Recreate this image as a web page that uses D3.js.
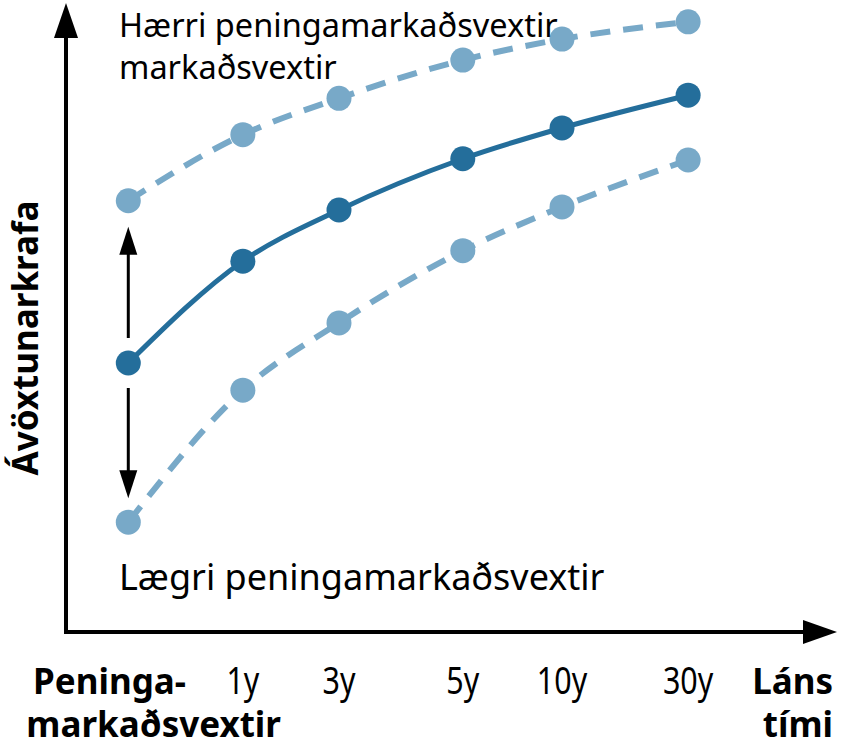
<!DOCTYPE html>
<html>
<head>
<meta charset="utf-8">
<script src="https://cdn.jsdelivr.net/npm/d3@7"></script>
<style>
  html, body { margin: 0; padding: 0; background: #fff; }
  svg { display: block; font-family: "Noto Sans", sans-serif; }
</style>
</head>
<body>
<svg id="chart"></svg>
<script>
const width = 841;
const height = 753;

// maturities along the x axis (position in chart units, 0-100)
const maturities = ["mm", "1y", "3y", "5y", "10y", "30y"];
const maturityPos = [8.1, 23.0, 35.5, 51.6, 64.5, 80.9];

// yields in chart units (0-100)
const baseCurve = [43.6, 60.1, 68.4, 76.7, 81.7, 87.0];
const higherCurve = [69.9, 80.6, 86.5, 92.7, 96.1, 98.9];
const lowerCurve = [17.8, 39.2, 50.1, 61.8, 68.9, 76.5];

const dark = "#246e9b";
const light = "#78a9c8";

const svg = d3.select("#chart")
  .attr("width", width)
  .attr("height", height)
  .attr("viewBox", [0, 0, width, height]);

const x = d3.scaleLinear().domain([0, 100]).range([66, 835]);
const y = d3.scaleLinear().domain([0, 100]).range([632, 15]);

const line = d3.line()
  .x((d, i) => x(maturityPos[i]))
  .y(d => y(d))
  .curve(d3.curveMonotoneX);

// axes with arrow heads
const axes = svg.append("g");
axes.append("line")
  .attr("x1", x(0)).attr("x2", x(0))
  .attr("y1", y(0) + 2).attr("y2", 36)
  .attr("stroke", "#000").attr("stroke-width", 4);
axes.append("path")
  .attr("d", `M${x(0)},3 L${x(0) - 12},38 L${x(0) + 12},38 Z`)
  .attr("fill", "#000");
axes.append("line")
  .attr("x1", x(0) - 2).attr("x2", 805)
  .attr("y1", y(0)).attr("y2", y(0))
  .attr("stroke", "#000").attr("stroke-width", 4);
axes.append("path")
  .attr("d", `M837,${y(0)} L803,${y(0) - 12} L803,${y(0) + 12} Z`)
  .attr("fill", "#000");

// curves
const series = [
  {values: higherCurve, color: light, dash: "20,13", width: 6},
  {values: lowerCurve, color: light, dash: "20,13", width: 6},
  {values: baseCurve, color: dark, dash: null, width: 5}
];

series.forEach(s => {
  svg.append("path")
    .datum(s.values)
    .attr("d", line)
    .attr("fill", "none")
    .attr("stroke", s.color)
    .attr("stroke-width", s.width)
    .attr("stroke-dasharray", s.dash);

  svg.append("g")
    .selectAll("circle")
    .data(s.values)
    .join("circle")
    .attr("cx", (d, i) => x(maturityPos[i]))
    .attr("cy", d => y(d))
    .attr("r", 12.5)
    .attr("fill", s.color);
});

// shift arrows from the base curve start
const ax = x(maturityPos[0]);
function vArrow(from, to) {
  const dir = Math.sign(to - from);
  svg.append("line")
    .attr("x1", ax).attr("x2", ax)
    .attr("y1", from).attr("y2", to - dir * 20)
    .attr("stroke", "#000").attr("stroke-width", 3);
  svg.append("path")
    .attr("d", `M${ax},${to} L${ax - 9},${to - dir * 28} L${ax + 9},${to - dir * 28} Z`)
    .attr("fill", "#000");
}
vArrow(y(baseCurve[0]) - 25, y(higherCurve[0]) + 26);
vArrow(y(baseCurve[0]) + 25, y(lowerCurve[0]) - 24);

// curve labels
const labels = svg.append("g").attr("fill", "#000");
labels.append("text")
  .attr("x", 119).attr("y", 37)
  .attr("font-size", 32.5)
  .text("Hærri peningamarkaðsvextir");
labels.append("text")
  .attr("x", 119).attr("y", 79)
  .attr("font-size", 32.5)
  .text("markaðsvextir");
labels.append("text")
  .attr("x", 119).attr("y", 590)
  .attr("font-size", 36)
  .text("Lægri peningamarkaðsvextir");

// x tick labels (narrow)
svg.append("g")
  .selectAll("text")
  .data(maturities.slice(1))
  .join("text")
  .attr("transform", (d, i) => `translate(${x(maturityPos[i + 1])},694) scale(0.8,1)`)
  .attr("text-anchor", "middle")
  .attr("font-size", 38)
  .text(d => d);

// axis titles
const bold = svg.append("g").attr("font-weight", "bold").attr("font-size", 35);
bold.append("text")
  .attr("x", 186).attr("y", 694)
  .attr("text-anchor", "end")
  .text("Peninga-");
bold.append("text")
  .attr("x", 281).attr("y", 737)
  .attr("text-anchor", "end")
  .text("markaðsvextir");
bold.append("text")
  .attr("x", 833).attr("y", 694)
  .attr("text-anchor", "end")
  .text("Láns");
bold.append("text")
  .attr("x", 833).attr("y", 737)
  .attr("text-anchor", "end")
  .text("tími");
bold.append("text")
  .attr("transform", "translate(38,338) rotate(-90)")
  .attr("text-anchor", "middle")
  .attr("font-size", 35)
  .text("Ávöxtunarkrafa");
</script>
</body>
</html>
